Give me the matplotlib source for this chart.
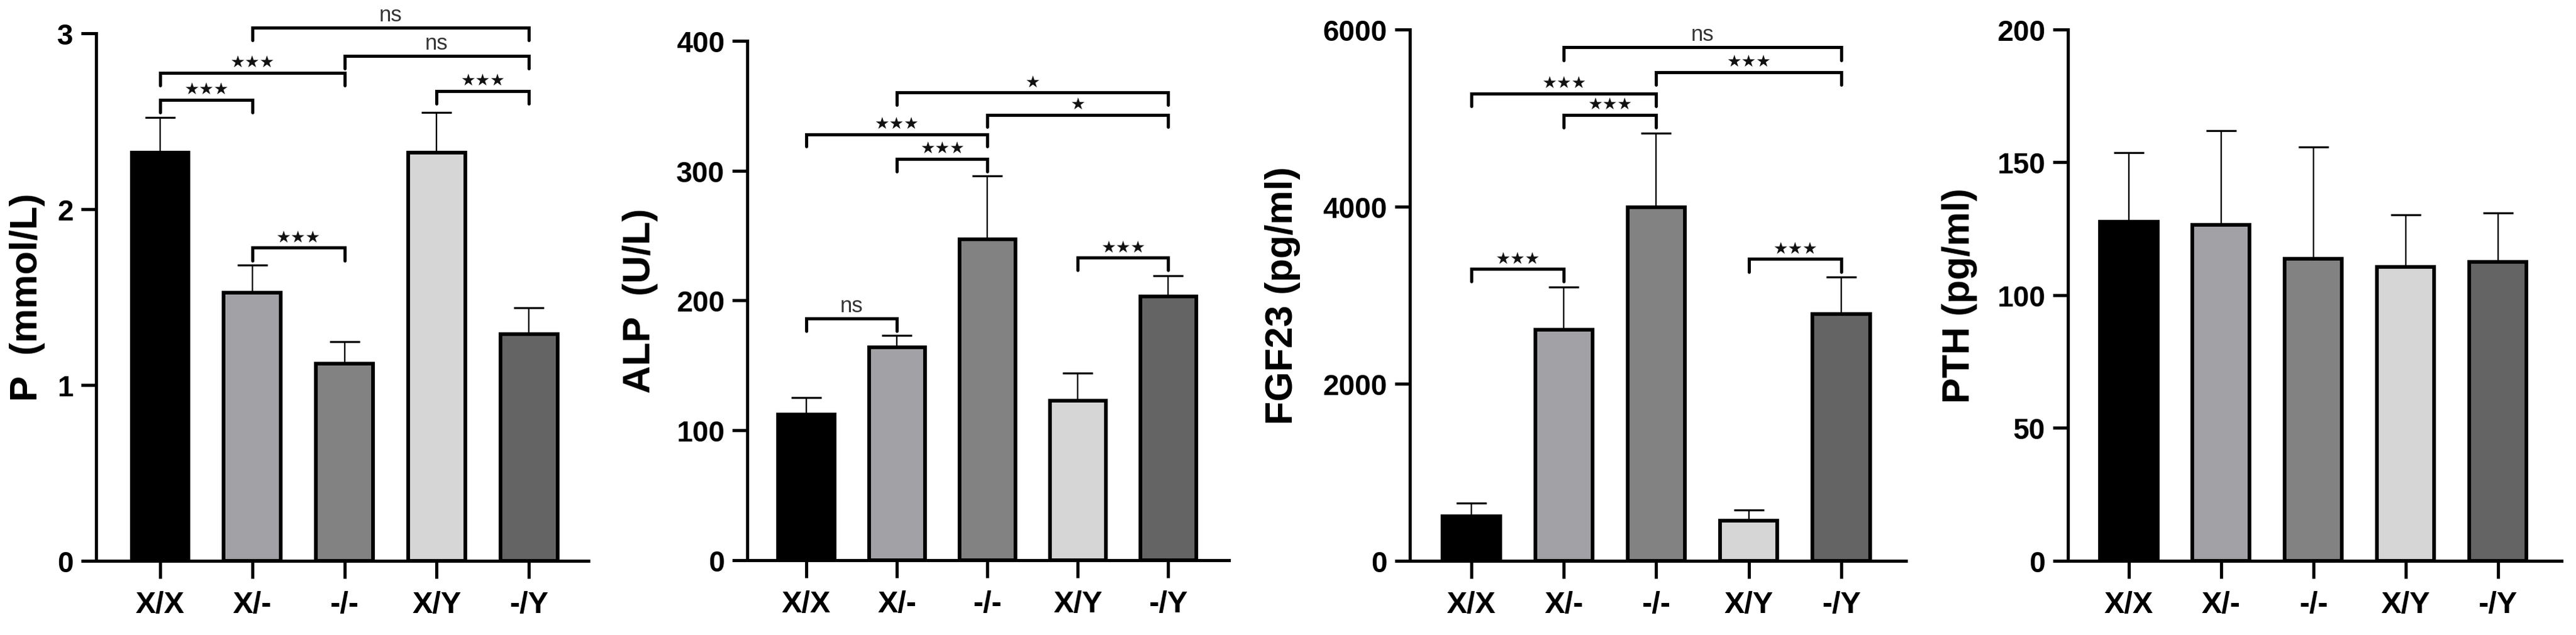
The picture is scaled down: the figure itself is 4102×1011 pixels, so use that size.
import matplotlib
matplotlib.use("Agg")
import matplotlib.pyplot as plt
import numpy as np

plt.rcParams['font.family'] = ['Liberation Sans', 'DejaVu Sans']
plt.rcParams['font.weight'] = 'bold'

# groups
groups = ['X/X', 'X/-', '-/-', 'X/Y', '-/Y']
bar_colors = ['#000000', '#a2a2a6', '#828282', '#d6d6d6', '#646464']

# P (mmol/L)
p_mean = [2.32, 1.525, 1.12, 2.32, 1.29]
p_err = [0.20, 0.155, 0.125, 0.23, 0.15]
p_sig = [(0, 1, 2.62, '***'), (0, 2, 2.775, '***'), (1, 2, 1.78, '***'),
         (3, 4, 2.67, '***'), (2, 4, 2.87, 'ns'), (1, 4, 3.03, 'ns')]

# ALP (U/L)
alp_mean = [112, 164, 247, 123, 203]
alp_err = [13, 9, 49, 21, 16]
alp_sig = [(0, 1, 186, 'ns'), (1, 2, 309, '***'), (0, 2, 328, '***'),
           (2, 4, 343, '*'), (1, 4, 360, '*'), (3, 4, 233, '***')]

# FGF23 (pg/ml)
fgf_mean = [506, 2610, 3990, 452, 2790]
fgf_err = [145, 484, 837, 122, 416]
fgf_sig = [(0, 1, 3296, '***'), (1, 2, 5037, '***'), (0, 2, 5277, '***'),
           (2, 4, 5517, '***'), (1, 4, 5797, 'ns'), (3, 4, 3409, '***')]

# PTH (pg/ml)
pth_mean = [127.7, 126.5, 113.6, 110.6, 112.6]
pth_err = [25.9, 35.5, 42.2, 19.6, 18.4]
pth_sig = []

W, H = 4102, 1012
fig = plt.figure(figsize=(W / 100, H / 100), dpi=100)

panels = [
    # (left px, right px, zero px, top px, xlim, ylabel, label offset, ymax, ticks, mean, err, sig)
    (153, 937, 894, 53.6, (-0.695, 4.647), 'P  (mmol/L)', -0.140, 3, [0, 1, 2, 3], p_mean, p_err, p_sig),
    (1190, 1957, 893, 65.7, (-0.653, 4.67), 'ALP  (U/L)', -0.222, 400, [0, 100, 200, 300, 400], alp_mean, alp_err, alp_sig),
    (2245, 3035, 894, 47.8, (-0.666, 4.70), 'FGF23 (pg/ml)', -0.256, 6000, [0, 2000, 4000, 6000], fgf_mean, fgf_err, fgf_sig),
    (3293, 4079, 894, 47.8, (-0.66, 4.69), 'PTH (pg/ml)', -0.220, 200, [0, 50, 100, 150, 200], pth_mean, pth_err, pth_sig),
]

x = np.arange(len(groups))
for left, right, zero, top, xl, ylab, lab_x, ymax, ticks, mean, err, sig in panels:
    ax = fig.add_axes([left / W, 1 - zero / H, (right - left) / W, (zero - top) / H])
    ax.bar(x, mean, width=0.62, color=bar_colors, edgecolor='black', linewidth=4.2, zorder=3)
    ax.errorbar(x, mean, yerr=[[0] * len(mean), err], fmt='none', ecolor='black',
                elinewidth=1.7, capsize=17, capthick=2.3, zorder=2)
    ax.set_xlim(*xl)
    ax.set_ylim(0, ymax)
    ax.set_yticks(ticks)
    ax.set_xticks(x)
    ax.set_xticklabels(groups)
    for s in ['top', 'right']:
        ax.spines[s].set_visible(False)
    for s in ['left', 'bottom']:
        ax.spines[s].set_linewidth(3.6)
    ax.tick_params(axis='y', length=17, width=3.6, pad=9, labelsize=33)
    ax.tick_params(axis='x', length=20, width=3.6, pad=14, labelsize=35)
    ax.set_ylabel(ylab, fontsize=44, fontweight='bold', va='center')
    ax.yaxis.set_label_coords(lab_x, 0.5)

    # significance brackets
    leg = 0.024 * ymax
    for i, j, y, txt in sig:
        ax.plot([x[i], x[i], x[j], x[j]], [y - leg, y, y, y - leg], color='black',
                lw=3.6, clip_on=False, solid_capstyle='round', solid_joinstyle='miter', zorder=4)
        if txt == 'ns':
            ax.annotate(txt, ((x[i] + x[j]) / 2, y), xytext=(0, 15), textcoords='offset points',
                        ha='center', va='center', fontsize=25, fontweight='normal',
                        color='#333333', annotation_clip=False)
        else:
            stars = '\u2605' * len(txt)
            ax.annotate(stars, ((x[i] + x[j]) / 2, y), xytext=(0, 12), textcoords='offset points',
                        ha='center', va='center', fontsize=19, family='DejaVu Sans',
                        color='#111111', annotation_clip=False)

fig.savefig('out.png', dpi=100)
